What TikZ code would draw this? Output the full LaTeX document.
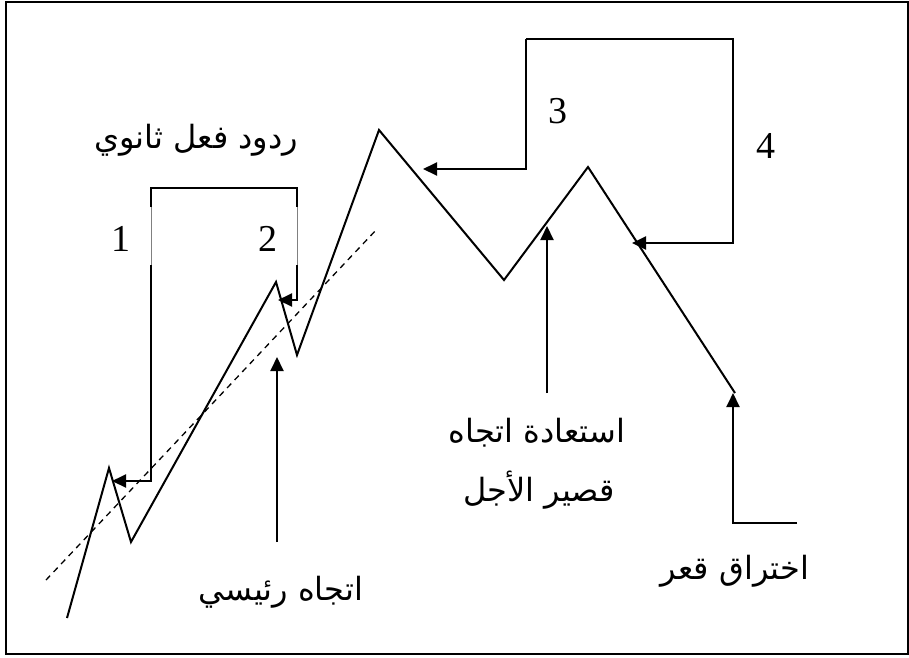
\documentclass[tikz,border=0pt]{standalone}
\usepackage{fontspec}
\setmainfont{Liberation Serif}
\newfontfamily\arabicfont[Script=Arabic]{DejaVu Sans}
\TeXXeTstate=1
\usetikzlibrary{arrows.meta}
\begin{document}
\begin{tikzpicture}[x=1pt,y=-1pt,
  line width=2pt, line join=miter,
  arr/.style={-{Triangle[length=14pt,width=13pt]}},
  num/.style={inner sep=0pt, font=\fontsize{38}{40}\selectfont},
  ar/.style={inner sep=0pt, font=\arabicfont\fontsize{32}{36}\selectfont}]
\useasboundingbox (0,0) rectangle (909,657);
\draw[line width=2.2pt] (6,2) rectangle (908,654);
% price path
\coordinate (p0) at (67,618);
\coordinate (p1) at (109,468);
\coordinate (p2) at (131,542);
\coordinate (p3) at (276,282);
\coordinate (p4) at (297,355);
\coordinate (p5) at (379,130);
\coordinate (p6) at (504,280);
\coordinate (p7) at (588,167);
\coordinate (p8) at (735,393);
\draw (p0) -- (p1) -- (p2) -- (p3) -- (p4) -- (p5) -- (p6) -- (p7) -- (p8);
% trend line
\coordinate (t0) at (46,580);
\coordinate (t1) at (377,229);
\draw[line width=1.3pt, dash pattern=on 6pt off 5pt] (t0) -- (t1);
% bracket 1-2
\coordinate (b1) at (151,188);
\coordinate (b2) at (297,188);
\coordinate (g1a) at (151,207);
\coordinate (g1b) at (151,265);
\coordinate (g2a) at (297,207);
\coordinate (g2b) at (297,265);
\coordinate (c1) at (151,481);
\coordinate (a1) at (112,481);
\coordinate (c2) at (297,300);
\coordinate (a2) at (278,300);
\draw (g1a) -- (b1) -- (b2) -- (g2a);
\draw[line width=0.6pt, gray] (g1a) -- (g1b);
\draw[line width=0.6pt, gray] (g2a) -- (g2b);
\draw[arr] (g1b) -- (c1) -- (a1);
\draw[arr] (g2b) -- (c2) -- (a2);
% bracket 3-4
\coordinate (c3) at (526,169);
\coordinate (d3) at (526,39);
\coordinate (d4) at (733,39);
\coordinate (c4) at (733,243);
\coordinate (a3) at (423,169);
\coordinate (a4) at (632,243);
\draw[arr] (d3) -- (c3) -- (a3);
\draw[arr] (d3) -- (d4) -- (c4) -- (a4);
% main trend arrow
\coordinate (m0) at (277,542);
\coordinate (m1) at (277,357);
\draw[arr] (m0) -- (m1);
% short-term arrow
\coordinate (s0) at (547,393);
\coordinate (s1) at (547,226);
\draw[arr] (s0) -- (s1);
% break arrow
\coordinate (k0) at (797,523);
\coordinate (k1) at (733,523);
\coordinate (k2) at (733,393);
\draw[arr] (k0) -- (k1) -- (k2);
% labels
\node[num] (n1) at (121,239) {1};
\node[num] (n2) at (268,239) {2};
\node[num] (n3) at (558,111) {3};
\node[num] (n4) at (766,146) {4};
\node[ar] (l1) at (196,140) {\beginR ردود فعل ثانوي\endR};
\node[ar] (l2) at (281,592) {\beginR اتجاه رئيسي\endR};
\node[ar] (l3) at (537,433) {\beginR استعادة اتجاه\endR};
\node[ar] (l4) at (539,490) {\beginR قصير الأجل\endR};
\node[ar] (l5) at (735,571) {\beginR اختراق قعر\endR};
\end{tikzpicture}
\end{document}
